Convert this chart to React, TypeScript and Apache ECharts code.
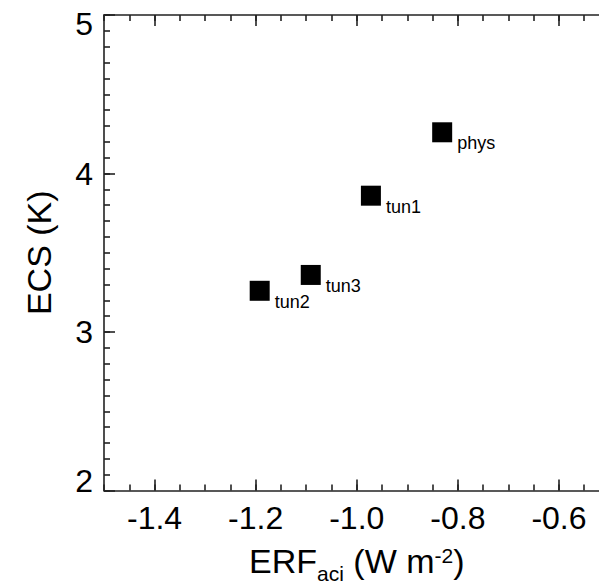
import { useEffect, useRef } from "react";
import * as echarts from "echarts";

const modelNames = ["phys", "tun1", "tun3", "tun2"];
const erfAci = [-0.831, -0.972, -1.091, -1.192];
const ecs = [4.26, 3.86, 3.36, 3.26];
const xMajorTicks = [-1.4, -1.2, -1.0, -0.8, -0.6];

const FONT = "'Liberation Sans', Arial, Helvetica, sans-serif";
const AX = "#222";

const ls = () => ({ color: AX, width: 1.6 });
const MAJOR = 11;
const MINOR = 6;

export default function App() {
  const ref = useRef<HTMLDivElement>(null);
  useEffect(() => {
    const chart = echarts.init(ref.current!, null, { renderer: "svg" });
    const baseX = () => ({
      type: "value",
      min: -1.5,
      max: -0.5,
      splitLine: { show: false },
      gridIndex: 0,
    });
    chart.setOption({
      animation: false,
      backgroundColor: "#fff",
      grid: { left: 104, top: 15, width: 505.5, height: 475.5, outerBoundsMode: "none", containLabel: false },
      xAxis: [
        {
          ...baseX(),
          position: "bottom",
          axisLine: { show: true, onZero: false, lineStyle: ls() },
          axisTick: { show: true, inside: true, length: MAJOR, customValues: xMajorTicks, lineStyle: ls() },
          axisLabel: {
            customValues: xMajorTicks,
            formatter: (v: number) => v.toFixed(1),
            fontSize: 32,
            color: "#000",
            margin: 11,
            fontFamily: FONT,
          },
          name: "{m|ERF}{sub|aci}{m| (W m}{sup|-2}{m|)}",
          nameLocation: "middle",
          nameGap: 47,
          nameTextStyle: {
            fontFamily: FONT,
            color: "#000",
            rich: {
              m: { fontSize: 34, lineHeight: 46, fontFamily: FONT, color: "#000", verticalAlign: "middle" },
              sub: { fontSize: 21, lineHeight: 21, fontFamily: FONT, color: "#000", verticalAlign: "bottom" },
              sup: { fontSize: 21, lineHeight: 21, fontFamily: FONT, color: "#000", verticalAlign: "top", padding: [7, 0, 0, 0] },
            },
          },
        },
        {
          ...baseX(),
          position: "bottom",
          interval: 0.05,
          axisLine: { show: false, onZero: false },
          axisTick: { show: true, inside: true, length: MINOR, lineStyle: ls() },
          axisLabel: { show: false },
        },
        {
          ...baseX(),
          position: "top",
          axisLine: { show: true, onZero: false, lineStyle: ls() },
          axisTick: { show: true, inside: true, length: MAJOR, customValues: xMajorTicks, lineStyle: ls() },
          axisLabel: { show: false },
        },
        {
          ...baseX(),
          position: "top",
          interval: 0.05,
          axisLine: { show: false, onZero: false },
          axisTick: { show: true, inside: true, length: MINOR, lineStyle: ls() },
          axisLabel: { show: false },
        },
      ],
      yAxis: [
        {
          type: "value",
          min: 2,
          max: 5,
          interval: 1,
          position: "left",
          splitLine: { show: false },
          axisLine: { show: true, onZero: false, lineStyle: ls() },
          axisTick: { show: true, inside: true, length: MAJOR, lineStyle: ls() },
          axisLabel: {
            fontSize: 32,
            color: "#000",
            margin: 11,
            fontFamily: FONT,
            formatter: (v: number) => (v === 5 ? "{top|5}" : v === 2 ? "{bot|2}" : String(v)),
            rich: {
              top: { fontSize: 32, color: "#000", fontFamily: FONT, padding: [17, 0, 0, 0] },
              bot: { fontSize: 32, color: "#000", fontFamily: FONT, padding: [0, 0, 19, 0] },
            },
          },
          name: "ECS (K)",
          nameLocation: "middle",
          nameGap: 48,
          nameTextStyle: { fontSize: 34, color: "#000", fontFamily: FONT },
        },
        {
          type: "value",
          min: 2,
          max: 5,
          interval: 0.1,
          position: "left",
          splitLine: { show: false },
          axisLine: { show: false, onZero: false },
          axisTick: { show: true, inside: true, length: MINOR, lineStyle: ls() },
          axisLabel: { show: false },
        },
      ],
      series: [
        {
          type: "scatter",
          xAxisIndex: 0,
          yAxisIndex: 0,
          symbol: "rect",
          symbolSize: 20,
          itemStyle: { color: "#000", opacity: 1 },
          data: erfAci.map((x, i) => ({ value: [x, ecs[i]], name: modelNames[i] })),
          label: {
            show: true,
            position: "right",
            distance: 5,
            offset: [0, 11],
            formatter: "{b}",
            fontSize: 18,
            color: "#000",
            fontFamily: FONT,
          },
        },
      ],
    });
    return () => chart.dispose();
  }, []);
  return (
    <div
      ref={ref}
      style={{ position: "fixed", left: 0, top: 0, width: 599, height: 584 }}
    />
  );
}
